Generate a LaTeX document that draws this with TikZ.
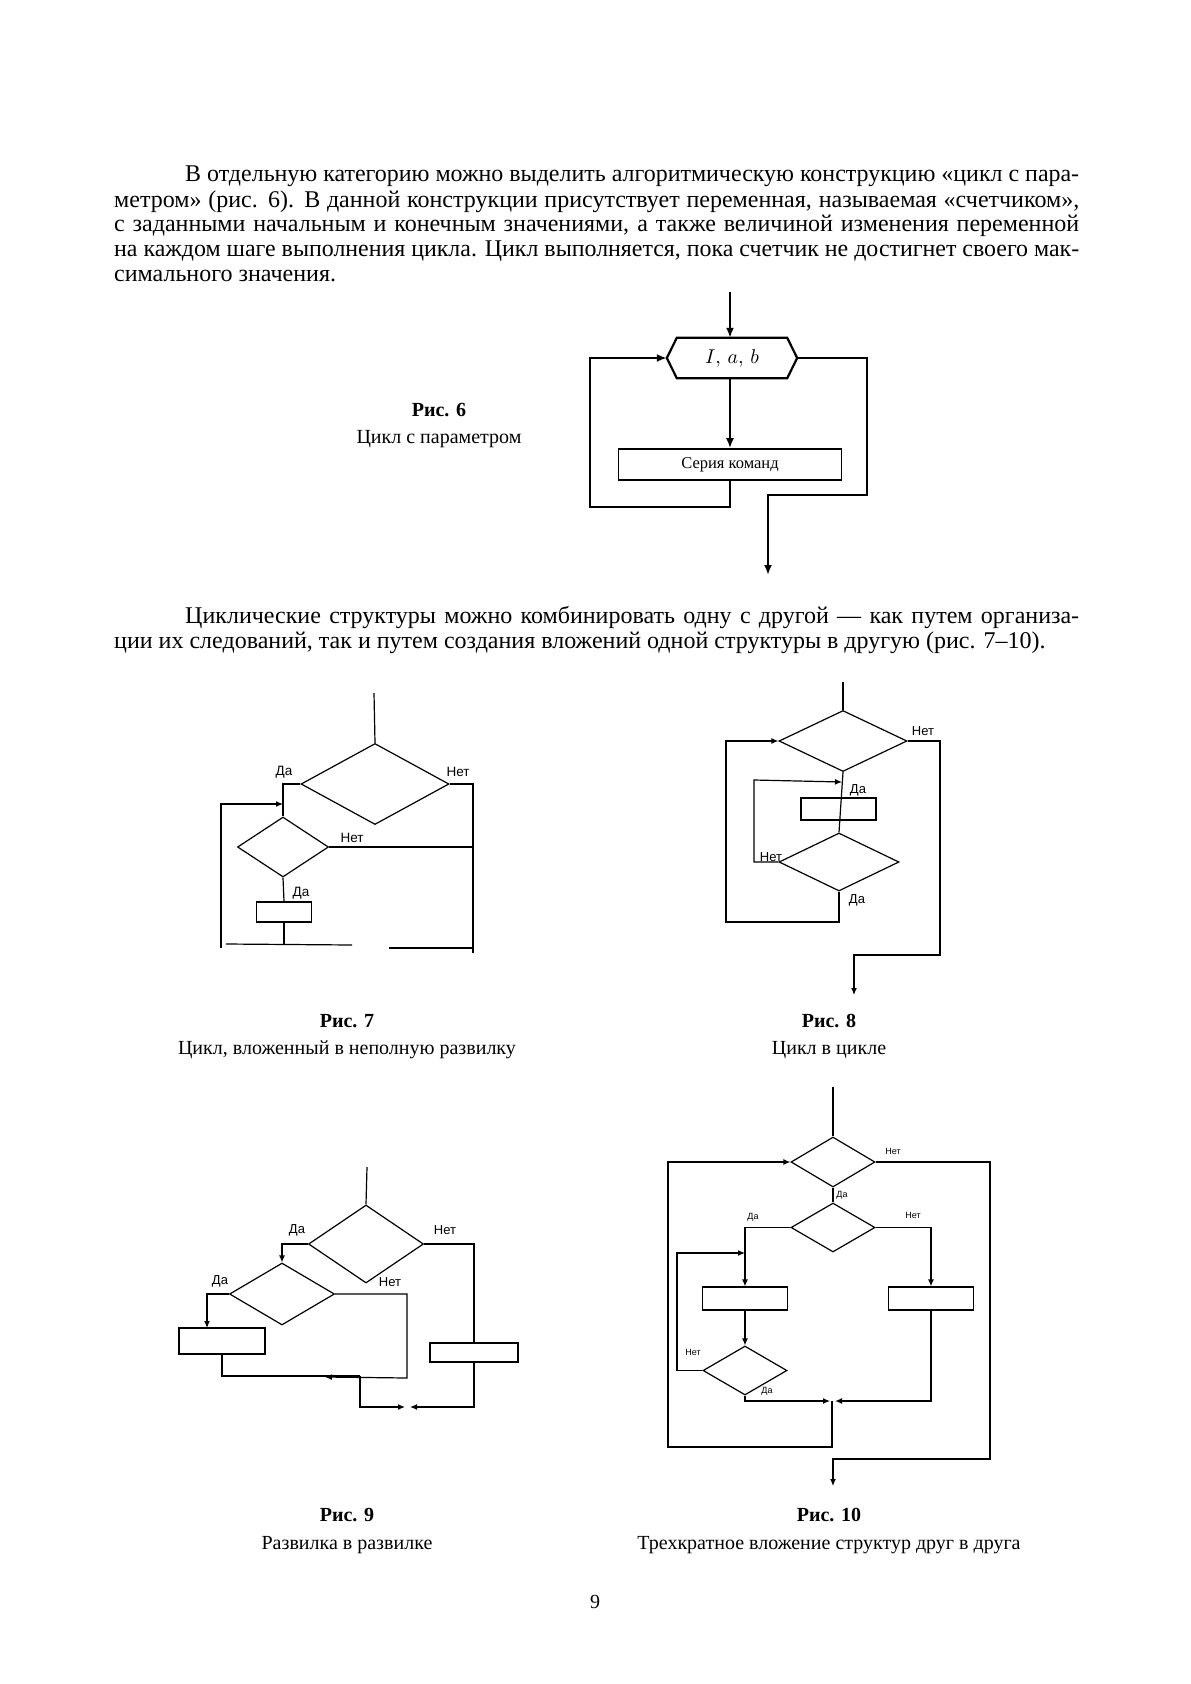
\documentclass[tikz,border=0pt]{standalone}
\usepackage{fontspec}
\usepackage{graphicx}
\setmainfont{Liberation Serif}
\newfontfamily\labf{Liberation Sans}
\usetikzlibrary{arrows.meta,shapes.geometric}
\newsavebox\jbox
\newcommand\jline[2]{\sbox\jbox{#2}\ifdim\wd\jbox>#1\relax\resizebox{#1}{\height}{\usebox\jbox}\else\makebox[#1][s]{#2}\fi}
\tikzset{
  body/.style={anchor=base west, inner sep=0pt, font=\fontsize{24}{25}\selectfont},
  capb/.style={inner sep=0pt, font=\bfseries\fontsize{20}{20}\selectfont},
  capt/.style={inner sep=0pt, font=\fontsize{20}{20}\selectfont},
  ln/.style={line width=1.2pt},
  lsix/.style={line width=2.2pt},
  dia/.style={draw, diamond, inner sep=0pt, line width=1.2pt},
  rbox/.style={draw, rectangle, inner sep=0pt, line width=1.2pt},
  arr/.style={-{Latex[length=7pt,width=6pt]}},
  asix/.style={-{Latex[length=10pt,width=8pt]}},
  labsev/.style={inner sep=0pt, font=\labf\fontsize{13.5}{13.5}\selectfont},
  lab/.style={inner sep=0pt, font=\labf\fontsize{13}{13}\selectfont},
  labs/.style={inner sep=0pt, font=\labf\fontsize{9}{9}\selectfont},
  labb/.style={inner sep=0pt, font=\labf\fontsize{13}{13}\selectfont},
}
\begin{document}
\begin{tikzpicture}[x=1pt,y=-1pt]
\useasboundingbox[fill=white] (0,0) rectangle (1191,1684);

% ---------- text ----------
\node[body] (t1) at (185,181) {\jline{894pt}{В отдельную категорию можно выделить алгоритмическую конструкцию «цикл с пара-}};
\node[body] (t2) at (114,207) {\jline{965pt}{метром» (рис. 6). В данной конструкции присутствует переменная, называемая «счетчиком»,}};
\node[body] (t3) at (114,231) {\jline{965pt}{с заданными начальным и конечным значениями, а также величиной изменения переменной}};
\node[body] (t4) at (114,256) {\jline{965pt}{на каждом шаге выполнения цикла. Цикл выполняется, пока счетчик не достигнет своего мак-}};
\node[body] (t5) at (114,281) {симального значения.};
\node[body] (t6) at (185,623) {\jline{894pt}{Циклические структуры можно комбинировать одну с другой — как путем организа-}};
\node[body] (t7) at (114,648) {ции их следований, так и путем создания вложений одной структуры в другую (рис. 7–10).};

% ---------- Fig 6 ----------
\node[capb] (c6a) at (439,410) {Рис. 6};
\node[capt] (c6b) at (439,439) {Цикл с параметром};
\coordinate (f6top) at (730,292);
\node[inner sep=0pt, minimum width=130pt, minimum height=40pt] (hex) at (732,358) {\scalebox{2}{$I,\,a,\,b$}};
\draw[lsix] (hex.west) -- ([xshift=10pt]hex.north west) -- ([xshift=-10pt]hex.north east) -- (hex.east) -- ([xshift=-10pt]hex.south east) -- ([xshift=10pt]hex.south west) -- cycle;
\node[draw, rectangle, inner sep=0pt, line width=1.6pt, minimum width=223pt, minimum height=31pt, font=\fontsize{16.5}{16.5}\selectfont] (ser) at (730,464.5) {Серия команд};
\draw[lsix,asix] (f6top) -- (f6top |- hex.north);
\draw[lsix,asix] (f6top |- hex.south) -- (ser.north);
\coordinate (f6l) at (590,507);
\draw[lsix,asix] (ser.south) -- (ser.south |- f6l) -- (f6l) -- (f6l |- hex.west) -- (hex.west);
\coordinate (f6r) at (867,495);
\coordinate (f6out) at (768,575);
\draw[lsix,asix] (hex.east) -- (hex.east -| f6r) -- (f6r) -- (f6out |- f6r) -- (f6out);

% ---------- Fig 7 ----------
\node[capb] (c7a) at (347,1021) {Рис. 7};
\node[capt] (c7b) at (347,1050) {Цикл, вложенный в неполную развилку};
\coordinate (f7top) at (374,693);
\node[dia, minimum width=148pt, minimum height=81pt] (d7a) at (375,784) {};
\node[dia, minimum width=91pt, minimum height=60pt] (d7b) at (283,847) {};
\node[rbox, minimum width=55pt, minimum height=20pt] (b7) at (284,912) {};
\draw[ln] (f7top) -- (d7a.north);
\draw[ln] (d7a.west) -- (d7a.west -| d7b.north) -- (d7b.north);
\coordinate (f7lb) at (221,948);
\coordinate (f7la) at (221,804);
\draw[ln,arr] (f7lb) -- (f7la) -- (f7la -| d7b.north);
\coordinate (f7r) at (473,953);
\draw[ln] (d7a.east) -- (d7a.east -| f7r) -- (f7r);
\draw[ln] (d7b.east) -- (d7b.east -| f7r);
\draw[ln] (d7b.south) -- (b7.north);
\coordinate (f7b) at (284,944);
\draw[ln] (b7.south) -- (f7b);
\coordinate (f7h1) at (226,944);
\coordinate (f7h2) at (352,945);
\draw[ln] (f7h1) -- (f7h2);
\coordinate (f7h3) at (389,948);
\coordinate (f7h4) at (473,948);
\draw[ln] (f7h3) -- (f7h4);
\node[labsev] (l7a) at (284,772) {Да};
\node[labsev] (l7b) at (458,772) {Нет};
\node[labsev] (l7c) at (352,838) {Нет};
\node[labsev] (l7d) at (301,893) {Да};

% ---------- Fig 8 ----------
\node[capb] (c8a) at (829,1021) {Рис. 8};
\node[capt] (c8b) at (829,1050) {Цикл в цикле};
\coordinate (f8top) at (843,682);
\node[dia, minimum width=128pt, minimum height=61pt] (d8a) at (843,741) {};
\node[rbox, minimum width=75pt, minimum height=22pt] (b8) at (838.5,809) {};
\node[dia, minimum width=120pt, minimum height=58pt] (d8b) at (839,862) {};
\draw[ln] (f8top) -- (d8a.north);
\draw[ln] (d8a.south) -- (d8b.north);
\coordinate (f8r) at (940,955);
\coordinate (f8out) at (854,995);
\draw[ln,arr] (d8a.east) -- (d8a.east -| f8r) -- (f8r) -- (f8out |- f8r) -- (f8out);
\coordinate (f8lb) at (726,922);
\draw[ln,arr] (d8b.south) -- (d8b.south |- f8lb) -- (f8lb) -- (f8lb |- d8a.west) -- (d8a.west);
\coordinate (f8il) at (754,780);
\coordinate (f8it) at (842,782);
\draw[ln,arr] (d8b.west) -- (d8b.west -| f8il) -- (f8il) -- (f8it);
\node[lab] (l8a) at (923,731) {Нет};
\node[lab] (l8b) at (858,790) {Да};
\node[lab] (l8c) at (771,857) {Нет};
\node[lab] (l8d) at (857,900) {Да};

% ---------- Fig 9 ----------
\node[capb] (c9a) at (347,1515) {Рис. 9};
\node[capt] (c9b) at (347,1545) {Развилка в развилке};
\coordinate (f9top) at (367,1167);
\node[dia, minimum width=115pt, minimum height=78pt] (d9a) at (366,1244) {};
\node[dia, minimum width=105pt, minimum height=62pt] (d9b) at (282,1294) {};
\node[rbox, minimum width=86pt, minimum height=26pt] (b9a) at (222,1341) {};
\node[rbox, minimum width=88pt, minimum height=19pt] (b9b) at (474,1352.5) {};
\draw[ln] (f9top) -- (d9a.north);
\draw[ln,arr] (d9a.west) -- (d9a.west -| d9b.north) -- (d9b.north);
\coordinate (f9x) at (207,1328);
\draw[ln,arr] (d9b.west) -- (d9b.west -| f9x) -- (f9x);
\coordinate (f9y) at (360,1376);
\draw[ln] (b9a.south) -- (b9a.south |- f9y) -- (f9y);
\coordinate (f9n) at (407,1378);
\coordinate (f9na) at (325,1377);
\draw[ln,arr] (d9b.east) -- (d9b.east -| f9n) -- (f9n) -- (f9na);
\coordinate (f9m) at (405,1407);
\draw[ln,arr] (f9y) -- (f9y |- f9m) -- (f9m);
\draw[ln] (d9a.east) -- (d9a.east -| b9b.north) -- (b9b.north);
\coordinate (f9m2) at (410,1407);
\draw[ln,arr] (b9b.south) -- (b9b.south |- f9m2) -- (f9m2);
\node[labb] (l9a) at (297,1230) {Да};
\node[labb] (l9b) at (445,1230) {Нет};
\node[labb] (l9c) at (220,1281) {Да};
\node[labb] (l9d) at (390,1282) {Нет};

% ---------- Fig 10 ----------
\node[capb] (c10a) at (829,1515) {Рис. 10};
\node[capt] (c10b) at (829,1545) {Трехкратное вложение структур друг в друга};
\coordinate (f10top) at (833,1087);
\node[dia, minimum width=84pt, minimum height=50pt] (d10a) at (833,1162) {};
\node[dia, minimum width=84pt, minimum height=49pt] (d10b) at (833,1227.5) {};
\node[rbox, minimum width=85pt, minimum height=23pt] (b10a) at (745,1298.5) {};
\node[dia, minimum width=84pt, minimum height=49pt] (d10c) at (745,1370.5) {};
\node[rbox, minimum width=85pt, minimum height=23pt] (b10b) at (931,1298.5) {};
\draw[ln] (f10top) -- (d10a.north);
\coordinate (f10r) at (990,1459);
\coordinate (f10out) at (833,1486);
\draw[ln,arr] (d10a.east) -- (d10a.east -| f10r) -- (f10r) -- (f10out |- f10r) -- (f10out);
\coordinate (f10m) at (832,1401);
\coordinate (f10lb) at (668,1447);
\draw[ln,arr] (f10m) -- (f10m |- f10lb) -- (f10lb) -- (f10lb |- d10a.west) -- (d10a.west);
\draw[ln] (d10a.south) -- (d10b.north);
\draw[ln,arr] (d10b.west) -- (d10b.west -| b10a.north) -- (b10a.north);
\draw[ln,arr] (b10a.south) -- (d10c.north);
\coordinate (f10il) at (677,1253);
\draw[ln,arr] (d10c.west) -- (d10c.west -| f10il) -- (f10il) -- (f10il -| d10c.north);
\coordinate (f10ml) at (830,1401);
\draw[ln,arr] (d10c.south) -- (d10c.south |- f10ml) -- (f10ml);
\draw[line width=1.8pt,arr] (d10b.east) -- (d10b.east -| b10b.north) -- (b10b.north);
\coordinate (f10mr) at (835,1401);
\draw[line width=1.8pt,arr] (b10b.south) -- (b10b.south |- f10mr) -- (f10mr);
\node[labs] (l10a) at (893,1151) {Нет};
\node[labs] (l10b) at (842,1195) {Да};
\node[labs] (l10c) at (753,1217) {Да};
\node[labs] (l10d) at (913,1215) {Нет};
\node[labs] (l10e) at (693,1352) {Нет};
\node[labs] (l10f) at (767,1391) {Да};

% page number
\node[capt] (pg) at (595,1602) {9};
\end{tikzpicture}
\end{document}
